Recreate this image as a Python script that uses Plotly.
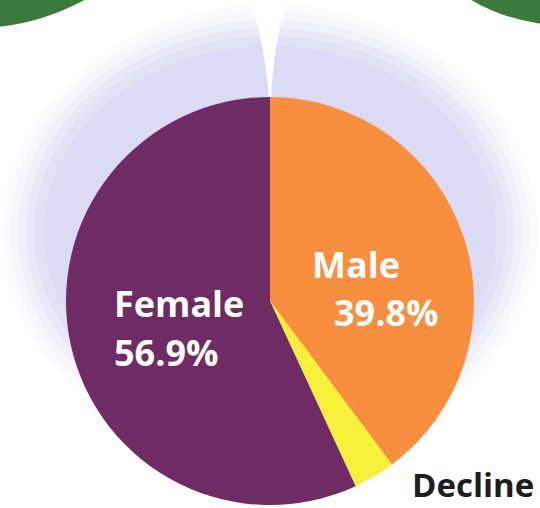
import plotly.graph_objects as go

labels = ["Male", "Decline", "Female"]
values = [39.8, 3.3, 56.9]
colors = ["#f78f3f", "#f7f03a", "#6f2c64"]

W, H = 540, 508
L, R, T, B = 66, 66, 97, 3
PW, PH = W - L - R, H - T - B


def px(x, y):
    return (x - L) / PW, (H - B - y) / PH


def path(points, close=True):
    parts = []
    for i, (cmd, pts) in enumerate(points):
        coords = " ".join("%.4f,%.4f" % px(*p) for p in pts)
        parts.append(cmd + " " + coords)
    return " ".join(parts) + (" Z" if close else "")


shapes = []
# green corners at top
shapes.append(dict(type="path", xref="paper", yref="paper", layer="below",
                   path=path([("M", [(-2, -2)]), ("L", [(88, -2)]),
                              ("Q", [(45, 22), (-2, 27)])]),
                   fillcolor="#3a7a3b", line=dict(width=0)))
shapes.append(dict(type="path", xref="paper", yref="paper", layer="below",
                   path=path([("M", [(468, -2)]), ("L", [(542, -2)]),
                              ("L", [(542, 24)]), ("Q", [(500, 18), (468, -2)])]),
                   fillcolor="#3a7a3b", line=dict(width=0)))
# lavender haze behind the pie
for (rx, ry, op) in [(268, 228, 0.06), (260, 220, 0.08), (252, 212, 0.10),
                     (244, 204, 0.12), (236, 196, 0.12), (226, 186, 0.12)]:
    cx, cy = 270, 232
    x0, y0 = px(cx - rx, cy + ry)
    x1, y1 = px(cx + rx, cy - ry)
    shapes.append(dict(type="circle", xref="paper", yref="paper", layer="below",
                       x0=x0, y0=y0, x1=x1, y1=y1,
                       fillcolor="rgba(185,185,235,%.2f)" % op, line=dict(width=0)))
# white notch at top centre
shapes.append(dict(type="path", xref="paper", yref="paper", layer="below",
                   path=path([("M", [(250, 0)]), ("L", [(288, 0)]),
                              ("Q", [(274, 40), (271, 98)]),
                              ("L", [(269, 98)]),
                              ("Q", [(264, 40), (250, 0)])]),
                   fillcolor="white", line=dict(width=0)))

fig = go.Figure(go.Pie(
    labels=labels, values=values, sort=False, direction="clockwise",
    rotation=0, marker=dict(colors=colors, line=dict(width=0)),
    textinfo="none", hoverinfo="label+percent", showlegend=False,
    domain=dict(x=[0, 1], y=[0, 1]),
))

font_w = dict(family="Open Sans", size=36, color="white", weight="bold")
ann = []
# Male
x, y = px(356, 264)
ann.append(dict(x=x, y=y, xref="paper", yref="paper", text=labels[0], showarrow=False,
                font=font_w, xanchor="center", yanchor="middle"))
x, y = px(386, 312)
ann.append(dict(x=x, y=y, xref="paper", yref="paper", text="%.1f%%" % values[0], showarrow=False,
                font=font_w, xanchor="center", yanchor="middle"))
# Female
x, y = px(112, 303)
ann.append(dict(x=x, y=y, xref="paper", yref="paper", text=labels[2], showarrow=False,
                font=font_w, xanchor="left", yanchor="middle"))
x, y = px(112, 352)
ann.append(dict(x=x, y=y, xref="paper", yref="paper", text="%.1f%%" % values[2], showarrow=False,
                font=font_w, xanchor="left", yanchor="middle"))
# Decline
x, y = px(536, 484)
ann.append(dict(x=x, y=y, xref="paper", yref="paper", text=labels[1], showarrow=False,
                font=dict(family="Open Sans", size=33, color="#1e1e1e", weight="bold"),
                xanchor="right", yanchor="middle"))

fig.update_layout(
    width=W, height=H, margin=dict(l=L, r=R, t=T, b=B),
    paper_bgcolor="white", plot_bgcolor="white",
    shapes=shapes, annotations=ann,
)

fig.write_html("out.html", config={"displayModeBar": False},
               post_script="document.body.style.margin='0px';")
